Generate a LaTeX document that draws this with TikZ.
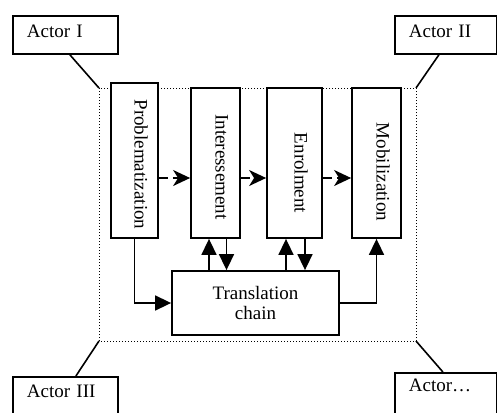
\documentclass[tikz,border=0pt]{standalone}
\usepackage{fontspec}
\setmainfont{Liberation Serif}
\usetikzlibrary{arrows.meta}
\begin{document}
\begin{tikzpicture}[x=1pt, y=-1pt,
    font=\fontsize{19}{20}\selectfont,
    stage/.style={rectangle, draw, line width=1.8pt, fill=white, minimum width=#1, minimum height=150pt, inner sep=0pt},
    actor/.style={rectangle, draw, line width=1.8pt, anchor=north west, align=left, text width=#1, inner xsep=14pt, inner ysep=9pt, text height=13pt, text depth=7pt},
    link/.style={line width=1.6pt, -{Triangle[length=16pt,width=15pt]}},
    dashflow/.style={line width=1.6pt, dash pattern=on 9pt off 5pt, -{Stealth[length=17pt,width=16pt,inset=5pt]}},
    tie/.style={line width=1.6pt},
    frame/.style={dotted, line width=1pt}]
    \useasboundingbox (0,0) rectangle (497,412);

    % dotted frame and the four actors
    \coordinate (nw) at (99,88);
    \coordinate (ne) at (416,88);
    \coordinate (sw) at (99,341);
    \coordinate (se) at (416,341);
    \draw[frame] (nw) rectangle (se);

    \node[actor=77pt] (a1) at (12,15) {Actor I};
    \node[actor=74pt] (a2) at (394,15) {Actor II};
    \node[actor=77pt, inner ysep=8pt, text depth=30pt] (a3) at (12,376) {Actor III};
    \node[actor=74pt, inner ysep=6pt, text depth=30pt] (a4) at (394,372) {Actor…};
    \draw[tie] ([xshift=4.5pt]a1.south) -- (nw);
    \draw[tie] ([xshift=-7pt]a2.south) -- (ne);
    \draw[tie] ([xshift=10.5pt]a3.north) -- (sw);
    \draw[tie] ([xshift=-3pt]a4.north) -- (se);

    % the four moments
    \node[stage=47pt, minimum height=155pt] (prob) at (134.5,160.5) {};
    \node[stage=49pt] (inter) at (215.5,163) {};
    \node[stage=55pt] (enrol) at (294.5,163) {};
    \node[stage=49pt] (mobil) at (376.5,163) {};
    \node[rotate=-90, anchor=base] (probtext) at ([yshift=-4pt]prob.center) {Problematization};
    \node[rotate=-90, anchor=base] (intertext) at ([yshift=-4pt]inter.center) {Interessement};
    \node[rotate=-90, anchor=base] (enroltext) at ([yshift=-10pt]enrol.center) {Enrolment};
    \node[rotate=-90, anchor=base] (mobiltext) at ([yshift=-9pt]mobil.center) {Mobilization};

    \node[rectangle, draw, line width=1.8pt, fill=white, minimum width=167pt, minimum height=64pt, align=center] (chain) at (255.5,303) {Translation\\chain};

    % connectors
    \coordinate (row) at (0,178);
    \draw[dashflow] (prob.east |- row) -- (inter.west |- row);
    \draw[dashflow] (inter.east |- row) -- (enrol.west |- row);
    \draw[dashflow] (enrol.east |- row) -- (mobil.west |- row);

    \draw[link] (prob.south) |- (chain.west);
    \draw[link] (chain.east) -| (mobil.south);
    \draw[link] ([xshift=-6.5pt]inter.south |- chain.north) -- ([xshift=-6.5pt]inter.south);
    \draw[link] ([xshift=11pt]inter.south) -- ([xshift=11pt]inter.south |- chain.north);
    \draw[link] ([xshift=-8.5pt]enrol.south |- chain.north) -- ([xshift=-8.5pt]enrol.south);
    \draw[link] ([xshift=10.5pt]enrol.south) -- ([xshift=10.5pt]enrol.south |- chain.north);
\end{tikzpicture}
\end{document}
